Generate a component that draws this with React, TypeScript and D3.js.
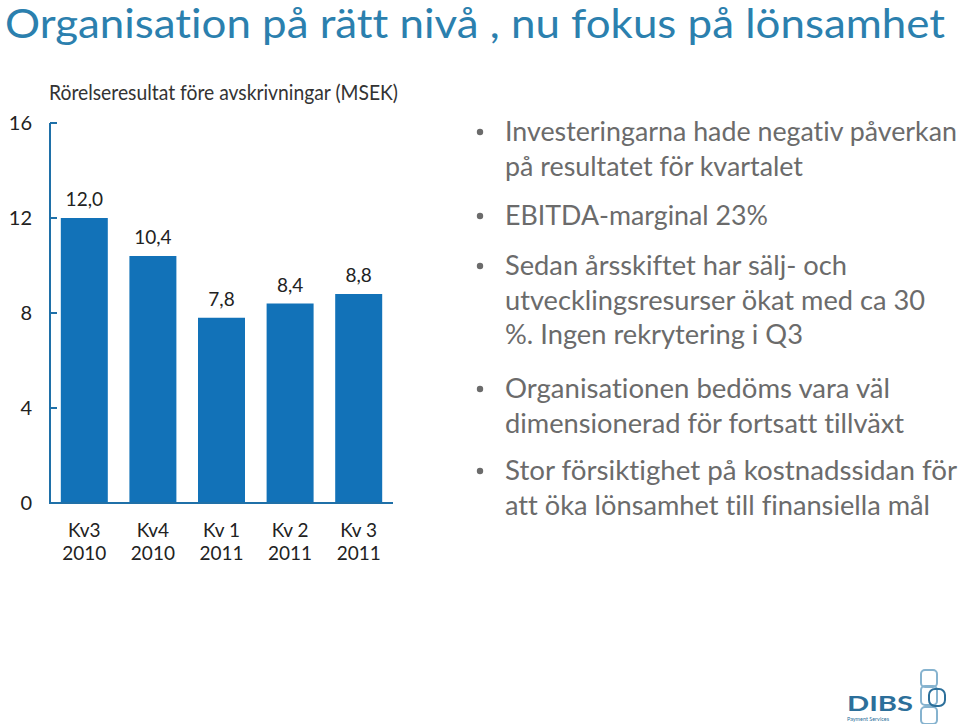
import React from "react";
import * as d3 from "d3";

const quarterLabels = ["Kv3", "Kv4", "Kv 1", "Kv 2", "Kv 3"];
const yearLabels = ["2010", "2010", "2011", "2011", "2011"];
const values = [12.0, 10.4, 7.8, 8.4, 8.8];
const yTicks = [0, 4, 8, 12, 16];

const titleText = "Organisation på rätt nivå , nu fokus på lönsamhet";
const subtitleText = "Rörelseresultat före avskrivningar (MSEK)";

const bulletLines: string[][] = [
  ["Investeringarna hade negativ påverkan", "på resultatet för kvartalet"],
  ["EBITDA-marginal 23%"],
  ["Sedan årsskiftet har sälj- och", "utvecklingsresurser ökat med ca 30", "%. Ingen rekrytering i Q3"],
  ["Organisationen bedöms vara väl", "dimensionerad för fortsatt tillväxt"],
  ["Stor försiktighet på kostnadssidan för", "att öka lönsamhet till finansiella mål"],
];
// approximate rendered widths in the reference
const bulletWidths: number[][] = [
  [452, 298],
  [263],
  [342, 420, 298],
  [385, 399],
  [452, 425],
];
const bulletBaselines: number[][] = [
  [141, 176],
  [225],
  [275, 310, 344],
  [398, 433],
  [480, 515],
];

const FONT = "Lato, 'DejaVu Sans', sans-serif";
const BAR = "#1272b8";
const AXIS = "#1f70a8";

export default function App() {
  const x = d3
    .scaleBand<number>()
    .domain(values.map((_, i) => i))
    .range([50, 393])
    .paddingInner(0.315)
    .paddingOuter(0.1575);
  const y = d3.scaleLinear().domain([0, 16]).range([503, 123]);
  const fmt = (v: number) => d3.format(".1f")(v).replace(".", ",");

  return (
    <svg
      width={960}
      height={724}
      style={{ position: "absolute", left: 0, top: 0, background: "#fff", fontVariantLigatures: "none" }}
      fontFamily={FONT}
    >
      <rect x={0} y={0} width={960} height={724} fill="#fff" />
      <text x={5} y={38} fontSize={40} fill="#2b80ae" textLength={940} lengthAdjust="spacingAndGlyphs">
        {titleText}
      </text>
      <text x={49} y={100} fontSize={21} fill="#333" textLength={349} lengthAdjust="spacingAndGlyphs">
        {subtitleText}
      </text>

      {/* y axis */}
      <line x1={50} x2={50} y1={y(16)} y2={y(0)} stroke={AXIS} strokeWidth={2} />
      {yTicks.map((t) => (
        <g key={t}>
          <line x1={50} x2={57} y1={y(t)} y2={y(t)} stroke={AXIS} strokeWidth={2} />
          <text x={32} y={y(t) + 7} fontSize={20} fill="#222" textAnchor="end">
            {t}
          </text>
        </g>
      ))}

      {/* bars */}
      {values.map((v, i) => (
        <g key={i}>
          <rect x={x(i)!} y={y(v)} width={x.bandwidth()} height={y(0) - y(v)} fill={BAR} />
          <text
            x={x(i)! + x.bandwidth() / 2}
            y={y(v) - 12}
            fontSize={19}
            fill="#222"
            textAnchor="middle"
          >
            {fmt(v)}
          </text>
          <text x={x(i)! + x.bandwidth() / 2} y={537} fontSize={19} fill="#222" textAnchor="middle">
            {quarterLabels[i]}
          </text>
          <text x={x(i)! + x.bandwidth() / 2} y={560} fontSize={19} fill="#222" textAnchor="middle">
            {yearLabels[i]}
          </text>
        </g>
      ))}
      <line x1={49} x2={393} y1={y(0)} y2={y(0)} stroke={AXIS} strokeWidth={2} />

      {/* bullets */}
      {bulletLines.map((lines, bi) => (
        <g key={bi}>
          <circle cx={480} cy={bulletBaselines[bi][0] - 9} r={3.2} fill="#6b6b6b" />
          {lines.map((ln, li) => (
            <text
              key={li}
              x={505}
              y={bulletBaselines[bi][li]}
              fontSize={27}
              fill="#6b6b6b"
              textLength={bulletWidths[bi][li]}
              lengthAdjust="spacingAndGlyphs"
            >
              {ln}
            </text>
          ))}
        </g>
      ))}

      {/* logo */}
      <g>
        <text x={847} y={711} fontSize={20} fontWeight={700} fill="#2c6f9a" textLength={66} lengthAdjust="spacingAndGlyphs">
          DIBS
        </text>
        <text x={847} y={721} fontSize={5.5} fill="#2c6f9a" textLength={42} lengthAdjust="spacingAndGlyphs">
          Payment Services
        </text>
        <rect x={921} y={670} width={16} height={17} rx={4} fill="none" stroke="#86b3cf" strokeWidth={2} />
        <rect x={921} y={686} width={16} height={19} rx={4} fill="none" stroke="#86b3cf" strokeWidth={2} />
        <rect x={921} y={707} width={16} height={17} rx={4} fill="none" stroke="#86b3cf" strokeWidth={2} />
        <rect x={929} y={689} width={16} height={17} rx={6} fill="none" stroke="#2c6f9a" strokeWidth={2} />
      </g>
    </svg>
  );
}
